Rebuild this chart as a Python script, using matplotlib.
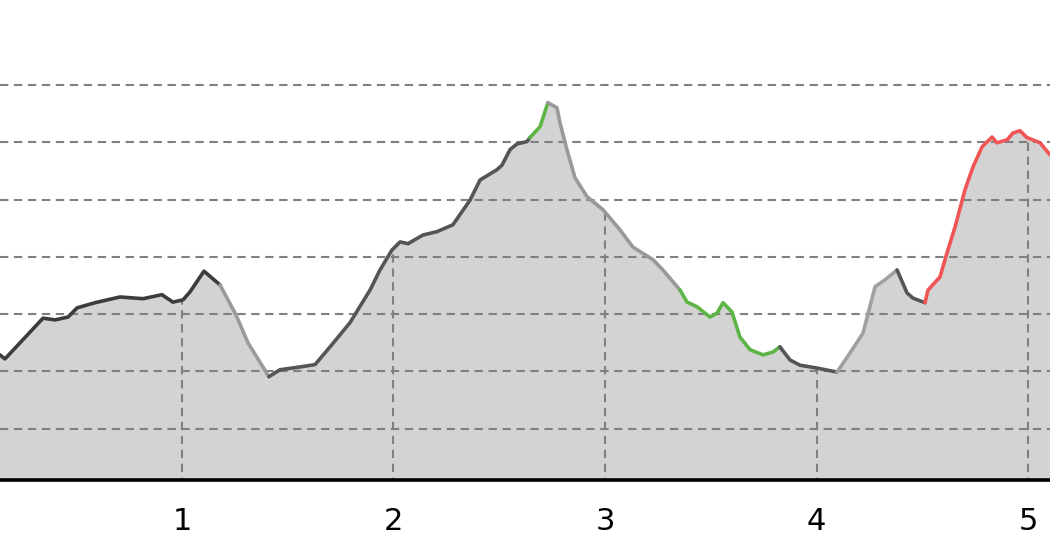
import matplotlib
matplotlib.use('Agg')
import matplotlib.pyplot as plt
import numpy as np

# distance (km) and elevation (m)
km = [0.139, 0.163, 0.343, 0.400, 0.461, 0.504, 0.589, 0.707, 0.816, 0.905,
      0.957, 1.005, 1.038, 1.104, 1.180, 1.255, 1.312, 1.411, 1.463, 1.558,
      1.629, 1.700, 1.794, 1.889, 1.936, 1.993, 2.031, 2.069, 2.139, 2.206,
      2.281, 2.362, 2.409, 2.489, 2.513, 2.551, 2.584, 2.631, 2.645, 2.693,
      2.716, 2.730, 2.773, 2.787, 2.820, 2.858, 2.915, 2.991, 3.071, 3.132,
      3.227, 3.274, 3.355, 3.388, 3.435, 3.496, 3.530, 3.558, 3.600, 3.638,
      3.686, 3.747, 3.794, 3.827, 3.875, 3.922, 4.002, 4.097, 4.158, 4.220,
      4.277, 4.324, 4.381, 4.428, 4.456, 4.513, 4.527, 4.584, 4.617, 4.655,
      4.702, 4.740, 4.783, 4.830, 4.853, 4.901, 4.929, 4.962, 4.995, 5.057,
      5.104]
elev = [229, 222, 293, 290, 295, 311, 320, 330, 327, 334,
        321, 325, 339, 375, 351, 299, 250, 191, 203, 208,
        212, 243, 285, 342, 377, 412, 426, 423, 438, 444,
        456, 499, 534, 552, 560, 587, 597, 601, 608, 627,
        653, 669, 660, 634, 587, 538, 505, 482, 447, 417,
        395, 377, 342, 321, 313, 295, 302, 320, 304, 260,
        238, 229, 234, 243, 220, 211, 206, 199, 232, 267,
        348, 360, 377, 337, 328, 320, 342, 365, 407, 452,
        517, 557, 592, 609, 599, 604, 616, 620, 608, 599,
        578]

# sections of the route: (start km, end km, colour)
sections = [
    (0.139, 1.180, '#3c3c3c'),
    (1.180, 1.411, '#9a9a9a'),
    (1.411, 2.645, '#555555'),
    (2.645, 2.730, '#5cb545'),
    (2.730, 3.355, '#999999'),
    (3.355, 3.827, '#5cb545'),
    (3.827, 4.097, '#555555'),
    (4.097, 4.381, '#a0a0a0'),
    (4.381, 4.513, '#555555'),
    (4.513, 5.104, '#f05555'),
]

x_ticks = [1, 2, 3, 4, 5]
y_grid = [100, 200, 300, 400, 500, 600, 700]

km = np.array(km)
elev = np.array(elev)

fig = plt.figure(figsize=(10.5, 5.6), dpi=100)
ax = fig.add_axes([0, 0.142, 1, 0.858])

ax.fill_between(km, 0, elev, color='#d3d3d3', zorder=1, linewidth=0)

dash = (0, (4, 2.7))
for y in y_grid:
    ax.axhline(y, color='#808080', lw=1.5, ls=dash, zorder=2)
for x in x_ticks:
    ax.vlines(x, 0, np.interp(x, km, elev), color='#808080', lw=1.5, ls=dash, zorder=2)

for start, end, color in sections:
    m = (km >= start - 1e-9) & (km <= end + 1e-9)
    ax.plot(km[m], elev[m], color=color, lw=2.6, zorder=3,
            solid_capstyle='round', solid_joinstyle='round')

ax.set_xlim(0.1395, 5.104)
ax.set_ylim(9.9, 848)
ax.set_xticks(x_ticks)
ax.set_xticklabels([str(t) for t in x_ticks], fontsize=22)
ax.tick_params(axis='x', length=0, pad=19)
ax.set_yticks([])
for s in ['left', 'right', 'top']:
    ax.spines[s].set_visible(False)
ax.spines['bottom'].set_linewidth(2.6)
ax.spines['bottom'].set_color('black')

fig.savefig('out.png', dpi=100)
